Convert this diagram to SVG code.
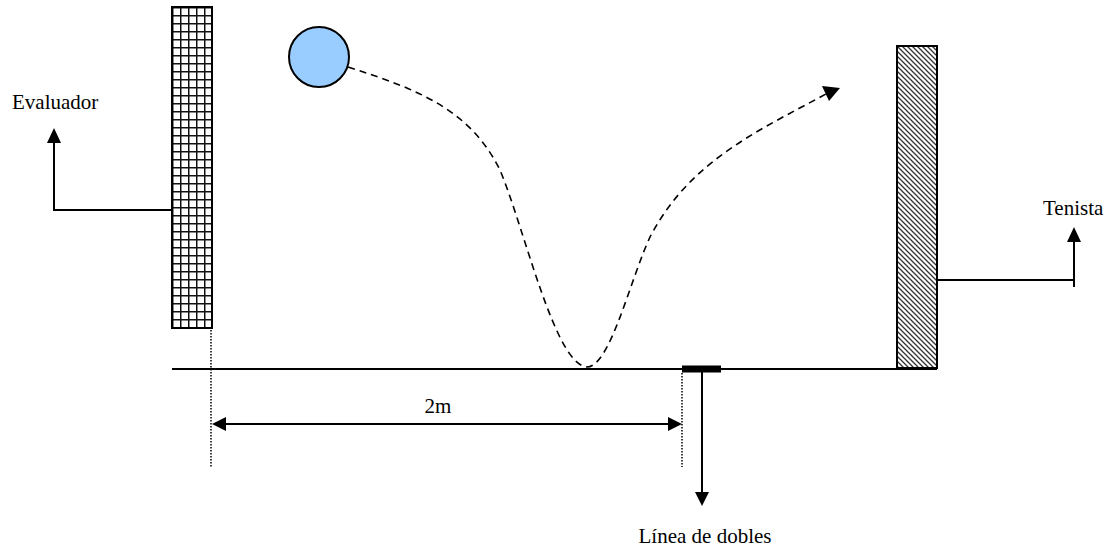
<svg xmlns="http://www.w3.org/2000/svg" width="1111" height="551" viewBox="0 0 1111 551">
<style>
.ln{stroke:#000;stroke-width:2;fill:none}
.dot{stroke:#000;stroke-width:1.5;stroke-dasharray:1.5,1.5;fill:none}
.dash{stroke:#000;stroke-width:1.6;stroke-dasharray:7,5;fill:none}
.txt{font-family:"Liberation Serif","Times New Roman",serif;font-size:21px;fill:#000}
.head{fill:#000}
</style>
<defs>
<pattern id="grid" patternUnits="userSpaceOnUse" x="172" y="7" width="8" height="8">
<rect width="8" height="8" fill="#fff"/>
<path d="M0,0 H8 M0,0 V8" stroke="#111" stroke-width="3" fill="none"/>
</pattern>
<pattern id="hatch" patternUnits="userSpaceOnUse" x="897" y="46" width="5" height="5">
<rect width="5" height="5" fill="#fff"/>
<path d="M-1,-1 L6,6 M-1,4 L1,6 M4,-1 L6,1" stroke="#333" stroke-width="1.3" fill="none"/>
</pattern>
</defs>

<g id="evaluador-panel">
<rect x="172" y="7" width="40" height="321" fill="url(#grid)" stroke="#000" stroke-width="2"/>
</g>

<g id="tenista-panel">
<rect x="897" y="46" width="40" height="322" fill="url(#hatch)" stroke="#000" stroke-width="2"/>
</g>

<g id="ball">
<circle cx="319" cy="57" r="30" fill="#99ccff" stroke="#000" stroke-width="2"/>
</g>

<g id="ground">
<line x1="172" y1="369" x2="937" y2="369" class="ln"/>
<rect x="682" y="365.5" width="39" height="7" fill="#000"/>
</g>

<g id="label-evaluador">
<text x="12" y="109" class="txt">Evaluador</text>
</g>
<g id="label-tenista">
<text x="1043" y="215" class="txt">Tenista</text>
</g>
<g id="label-2m">
<text x="438" y="413" class="txt" text-anchor="middle">2m</text>
</g>
<g id="label-dobles">
<text x="705" y="543" class="txt" text-anchor="middle">Línea de dobles</text>
</g>

<g id="connectors">
<path d="M172,210 H54 V142" class="ln"/>
<path d="M47,143 L54,128 L61,143 Z" class="head"/>
<path d="M937,280 H1074 V241" class="ln"/>
<path d="M1067,242 L1074,227 L1081,242 Z" class="head"/>
<path d="M1074,280 V287" class="ln"/>
<path d="M702,372 V493" class="ln"/>
<path d="M695,492 L702,506 L709,492 Z" class="head"/>
<line x1="211" y1="330" x2="211" y2="468" class="dot"/>
<line x1="682" y1="373" x2="682" y2="467" class="dot"/>
<line x1="226" y1="424" x2="668" y2="424" class="ln"/>
<path d="M226,417 L212,424 L226,431 Z" class="head"/>
<path d="M668,417 L682,424 L668,431 Z" class="head"/>
<path d="M348,67 C420,90 470,110 500,170 C525,230 555,365 587,367 C610,367 630,280 650,237 C690,160 760,130 826,94" class="dash"/>
<path d="M822,86 L840,88 L829,101 Z" class="head"/>
</g>
</svg>
